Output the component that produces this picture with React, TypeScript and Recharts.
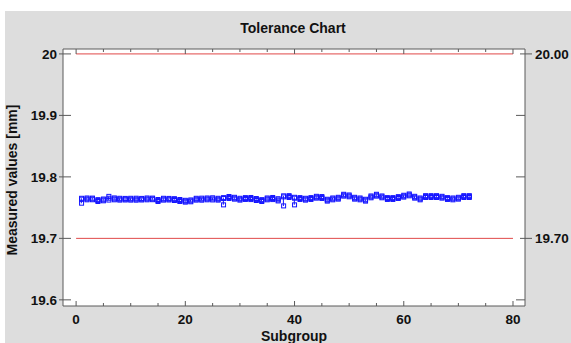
import React from 'react';
import { ComposedChart, Bar, Line, XAxis, YAxis, ReferenceLine } from 'recharts';

document.body.style.margin = '0';

const sampleHigh = [
  19.7652, 19.7657, 19.7655, 19.763, 19.764, 19.7683, 19.7658, 19.7652, 19.765, 19.7652,
  19.7653, 19.765, 19.7657, 19.7655, 19.7632, 19.7652, 19.765, 19.7646, 19.7632, 19.7619,
  19.7625, 19.7652, 19.7654, 19.7657, 19.766, 19.7652, 19.7663, 19.7681, 19.7668, 19.7652,
  19.7663, 19.7665, 19.7648, 19.763, 19.7657, 19.7665, 19.7645, 19.7692, 19.7695, 19.7668,
  19.7663, 19.7652, 19.7663, 19.7684, 19.768, 19.7636, 19.7657, 19.7668, 19.7717, 19.7706,
  19.7668, 19.7657, 19.7636, 19.769, 19.7717, 19.769, 19.7663, 19.7663, 19.7679, 19.7701,
  19.7722, 19.7684, 19.7657, 19.7695, 19.7695, 19.7695, 19.7684, 19.7663, 19.7657, 19.7668,
  19.7695, 19.7695,
];
const sampleMid = [
  19.7637, 19.7642, 19.7642, 19.7615, 19.7626, 19.7653, 19.7642, 19.7637, 19.7637, 19.7637,
  19.7637, 19.7637, 19.7642, 19.7642, 19.7615, 19.7637, 19.7637, 19.7631, 19.7615, 19.7604,
  19.761, 19.7637, 19.7637, 19.7642, 19.7642, 19.7637, 19.7648, 19.7664, 19.7653, 19.7637,
  19.7648, 19.7648, 19.7631, 19.7615, 19.7642, 19.7648, 19.7626, 19.7675, 19.768, 19.7653,
  19.7648, 19.7637, 19.7648, 19.7669, 19.7664, 19.7621, 19.7642, 19.7653, 19.7702, 19.7691,
  19.7653, 19.7642, 19.7621, 19.7675, 19.7702, 19.7675, 19.7648, 19.7648, 19.7664, 19.7686,
  19.7707, 19.7669, 19.7642, 19.768, 19.768, 19.768, 19.7669, 19.7648, 19.7642, 19.7653,
  19.768, 19.768,
];
const sampleLow = [
  19.7572, 19.7627, 19.7628, 19.76, 19.7611, 19.7623, 19.7627, 19.7622, 19.7624, 19.7622,
  19.7621, 19.7624, 19.7627, 19.7629, 19.76, 19.7622, 19.7624, 19.7616, 19.76, 19.7589,
  19.7595, 19.7622, 19.7621, 19.7627, 19.7625, 19.7622, 19.7545, 19.7649, 19.7638, 19.7622,
  19.7633, 19.7631, 19.7616, 19.76, 19.7627, 19.7631, 19.7609, 19.7528, 19.7665, 19.7545,
  19.7633, 19.7622, 19.7633, 19.7654, 19.7649, 19.7606, 19.7627, 19.7638, 19.7687, 19.7676,
  19.7638, 19.7627, 19.7606, 19.766, 19.7687, 19.766, 19.7633, 19.7633, 19.7649, 19.7671,
  19.7692, 19.7654, 19.7627, 19.7665, 19.7665, 19.7665, 19.7654, 19.7633, 19.7627, 19.7638,
  19.7665, 19.7665,
];

const xTicks = [0, 5, 10, 15, 20, 25, 30, 35, 40, 45, 50, 55, 60, 65, 70, 75, 80];
const yTicks = [19.6, 19.7, 19.8, 19.9, 20];
const toleranceLimits = [19.7, 20.0];
const limitRange = [0, 80];

const rows = sampleMid.map((v, i) => ({
  subgroup: i + 1,
  high: sampleHigh[i],
  mid: v,
  low: sampleLow[i],
  range: [sampleLow[i], sampleHigh[i]],
}));

const FONT = '"Liberation Sans", Arial, sans-serif';
const AXIS = '#5a5a5a';
const BLUE = '#1414ff';
const RED = '#e04848';
const TM = 4;
const TICK_FS = 13.5;

const BottomTick = (props: any) => {
  const { x, y, payload } = props;
  const base = y - TM;
  const major = payload.value % 20 === 0;
  return (
    <g>
      <line x1={x} x2={x} y1={base} y2={base - (major ? 5 : 3)} stroke={AXIS} />
      {major && (
        <text x={x} y={base + 18} textAnchor="middle" fontSize={TICK_FS} fontWeight="bold" fill="#111" fontFamily={FONT}>
          {payload.value}
        </text>
      )}
    </g>
  );
};

const TopTick = (props: any) => {
  const { x, y, payload } = props;
  const base = y + TM;
  const major = payload.value % 20 === 0;
  return <line x1={x} x2={x} y1={base} y2={base + (major ? 5 : 3)} stroke={AXIS} />;
};

const LeftTick = (props: any) => {
  const { x, y, payload } = props;
  const edge = x + TM;
  return (
    <g>
      <line x1={edge - 4} x2={edge + 8} y1={y} y2={y} stroke={AXIS} />
      <text x={edge - 6} y={y + 5} textAnchor="end" fontSize={TICK_FS} fontWeight="bold" fill="#111" fontFamily={FONT}>
        {String(payload.value)}
      </text>
    </g>
  );
};

const RightTick = (props: any) => {
  const { x, y, payload } = props;
  const edge = x - TM;
  const isLimit = toleranceLimits.some((t) => Math.abs(t - payload.value) < 1e-9);
  return (
    <g>
      <line x1={edge - (isLimit ? 5 : 9)} x2={isLimit ? edge + 7 : edge} y1={y} y2={y} stroke={AXIS} />
      {isLimit && (
        <text x={edge + 10} y={y + 5} textAnchor="start" fontSize={TICK_FS} fontWeight="bold" fill="#111" fontFamily={FONT}>
          {payload.value.toFixed(2)}
        </text>
      )}
    </g>
  );
};

const SquareDot = (props: any) => {
  const { cx, cy, index } = props;
  if (cx == null || cy == null) return <g key={index} />;
  return (
    <rect key={index} x={cx - 2} y={cy - 2} width={4} height={4} fill="none" stroke={BLUE} strokeWidth={1} />
  );
};

const App = () => {
  return (
    <div style={{ position: 'relative', width: 571, height: 343, background: '#fff', overflow: 'hidden' }}>
      <div style={{ position: 'absolute', left: 5, top: 11, width: 566, height: 332, background: '#dddddd' }} />
      <div style={{ position: 'absolute', left: 63, top: 49, width: 462, height: 257, background: '#fff' }} />
      <div style={{ position: 'absolute', left: 0, top: 0 }}>
        <ComposedChart
          width={571}
          height={343}
          data={rows}
          margin={{ top: 44, right: 6, bottom: 7, left: 3 }}
        >
          <XAxis
            xAxisId="bottom"
            dataKey="subgroup"
            type="number"
            domain={[-2.4, 82.2]}
            allowDataOverflow
            ticks={xTicks}
            interval={0}
            height={30}
            tickSize={0}
            tickMargin={TM}
            tickLine={false}
            axisLine={{ stroke: AXIS }}
            tick={<BottomTick />}
          />
          <XAxis
            xAxisId="top"
            orientation="top"
            dataKey="subgroup"
            type="number"
            domain={[-2.4, 82.2]}
            allowDataOverflow
            ticks={xTicks}
            interval={0}
            height={5}
            tickSize={0}
            tickMargin={TM}
            tickLine={false}
            axisLine={{ stroke: AXIS }}
            tick={<TopTick />}
          />
          <YAxis
            yAxisId="left"
            type="number"
            domain={[19.59, 20.008]}
            allowDataOverflow
            ticks={yTicks}
            interval={0}
            width={60}
            tickSize={0}
            tickMargin={TM}
            tickLine={false}
            axisLine={{ stroke: AXIS }}
            tick={<LeftTick />}
          />
          <YAxis
            yAxisId="right"
            orientation="right"
            type="number"
            domain={[19.59, 20.008]}
            allowDataOverflow
            ticks={yTicks}
            interval={0}
            width={40}
            tickSize={0}
            tickMargin={TM}
            tickLine={false}
            axisLine={{ stroke: AXIS }}
            tick={<RightTick />}
          />
          {toleranceLimits.map((t) => (
            <ReferenceLine
              key={t}
              xAxisId="bottom"
              yAxisId="left"
              segment={[
                { x: limitRange[0], y: t },
                { x: limitRange[1], y: t },
              ]}
              stroke={RED}
              strokeWidth={1}
            />
          ))}
          <Bar xAxisId="bottom" yAxisId="left" dataKey="range" barSize={1} fill={BLUE} isAnimationActive={false} />
          {['high', 'mid', 'low'].map((k) => (
            <Line
              key={k}
              xAxisId="bottom"
              yAxisId="left"
              dataKey={k}
              stroke="none"
              dot={SquareDot}
              activeDot={false}
              isAnimationActive={false}
            />
          ))}
        </ComposedChart>
      </div>
      <svg width={571} height={343} style={{ position: 'absolute', left: 0, top: 0, pointerEvents: 'none' }}>
        <text x={293} y={33} textAnchor="middle" fontSize={14} fontWeight="bold" fill="#111" fontFamily={FONT}>
          Tolerance Chart
        </text>
        <text
          transform="translate(17,180) rotate(-90)"
          textAnchor="middle"
          fontSize={14}
          fontWeight="bold"
          fill="#111"
          fontFamily={FONT}
        >
          Measured values [mm]
        </text>
        <text x={294} y={341} textAnchor="middle" fontSize={14} fontWeight="bold" fill="#111" fontFamily={FONT}>
          Subgroup
        </text>
      </svg>
    </div>
  );
};

export default App;
